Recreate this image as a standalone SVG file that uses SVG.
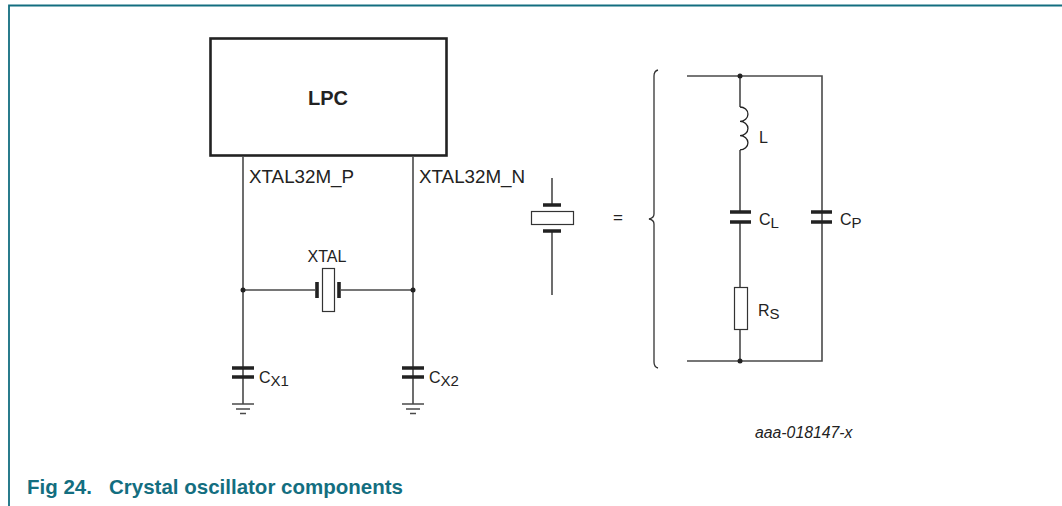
<svg xmlns="http://www.w3.org/2000/svg" width="1062" height="506" viewBox="0 0 1062 506">
<style>
.w{stroke:#4a4a4a;stroke-width:1.6;fill:none}
.plate{stroke:#222;stroke-width:3.6;fill:none}
.t{font-family:"Liberation Sans",Arial,sans-serif;fill:#222}
.dot{fill:#222}
</style>
<rect width="1062" height="506" fill="#fff"/>
<g id="frame"><path d="M9,506 V5.5 H1062" stroke="#136e80" stroke-width="1.8" fill="none"/></g>
<g id="lpc">
<rect x="210.5" y="38.5" width="236" height="117" fill="#fff" stroke="#222" stroke-width="2.6"/>
<text class="t" x="328" y="105" font-size="20" font-weight="bold" text-anchor="middle">LPC</text>
</g>
<g id="connectors">
<path class="w" d="M243,157 V404 M413,157 V404 M243,290 H315 M341,290 H413"/>
<path class="w" d="M552,178 V205 M552,231 V295"/>
<path class="w" d="M687,76 H822 V361 H687 M740,76 V107 M740,150 V212 M740,222 V287 M740,329 V361"/>
<circle class="dot" cx="243" cy="290" r="2.5"/>
<circle class="dot" cx="413" cy="290" r="2.5"/>
<circle class="dot" cx="740" cy="76" r="2.5"/>
<circle class="dot" cx="740" cy="361" r="2.5"/>
</g>
<g id="pin_labels">
<text class="t" x="249" y="183" font-size="18.8">XTAL32M_P</text>
<text class="t" x="419" y="183" font-size="18.8">XTAL32M_N</text>
</g>
<g id="xtal">
<path class="plate" d="M317,282 V298 M339,282 V298"/>
<rect x="322.5" y="268.5" width="12" height="43" fill="#fff" stroke="#333" stroke-width="1.2"/>
<text class="t" x="327" y="262" font-size="16" text-anchor="middle">XTAL</text>
</g>
<g id="cx1">
<path class="plate" d="M232,368 H254 M232,377 H254"/>
<text class="t" x="259" y="383" font-size="16">C<tspan dy="3" font-size="15">X1</tspan></text>
</g>
<g id="cx2">
<path class="plate" d="M402,368 H424 M402,377 H424"/>
<text class="t" x="429" y="383" font-size="16">C<tspan dy="3" font-size="15">X2</tspan></text>
</g>
<g id="gnd1"><path class="w" d="M232,404 H254 M236,409 H250 M240,413.5 H246" stroke-width="1.2"/></g>
<g id="gnd2"><path class="w" d="M402,404 H424 M406,409 H420 M410,413.5 H416" stroke-width="1.2"/></g>
<g id="crystal_symbol">
<path class="plate" d="M543,205 H561 M543,231 H561"/>
<rect x="531.5" y="211.5" width="42" height="13" fill="#fff" stroke="#333" stroke-width="1.2"/>
</g>
<g id="equals"><text class="t" x="618" y="223" font-size="17" text-anchor="middle">=</text></g>
<g id="brace"><path d="M658,70 Q654,71 654,76 V214 Q654,218 649,219 Q654,220 654,224 V362 Q654,367 658,368" stroke="#333" stroke-width="1.3" fill="none"/></g>
<g id="inductor">
<path d="M740,107 a4,3.6 0 0 1 0,14.3 a4,3.6 0 0 1 0,14.3 a4,3.6 0 0 1 0,14.3" stroke="#222" stroke-width="1.3" fill="none"/>
<text class="t" x="759" y="143" font-size="16">L</text>
</g>
<g id="cl">
<path class="plate" d="M730,212 H751 M730,222 H751"/>
<text class="t" x="759" y="225" font-size="16">C<tspan dy="3" font-size="15">L</tspan></text>
</g>
<g id="cp">
<path class="plate" d="M811,212 H832 M811,222 H832"/>
<text class="t" x="840" y="225" font-size="16">C<tspan dy="3" font-size="15">P</tspan></text>
</g>
<g id="rs">
<rect x="734.5" y="287.5" width="13" height="42" fill="#fff" stroke="#333" stroke-width="1.2"/>
<text class="t" x="758" y="316" font-size="16">R<tspan dy="3" font-size="15">S</tspan></text>
</g>
<g id="ref"><text class="t" x="755" y="438" font-size="15.8" font-style="italic" fill="#333">aaa-018147-x</text></g>
<g id="caption"><text x="27" y="494" font-family="'Liberation Sans',Arial,sans-serif" font-size="20.5" font-weight="bold" fill="#136e80" xml:space="preserve">Fig 24.   Crystal oscillator components</text></g>
</svg>
